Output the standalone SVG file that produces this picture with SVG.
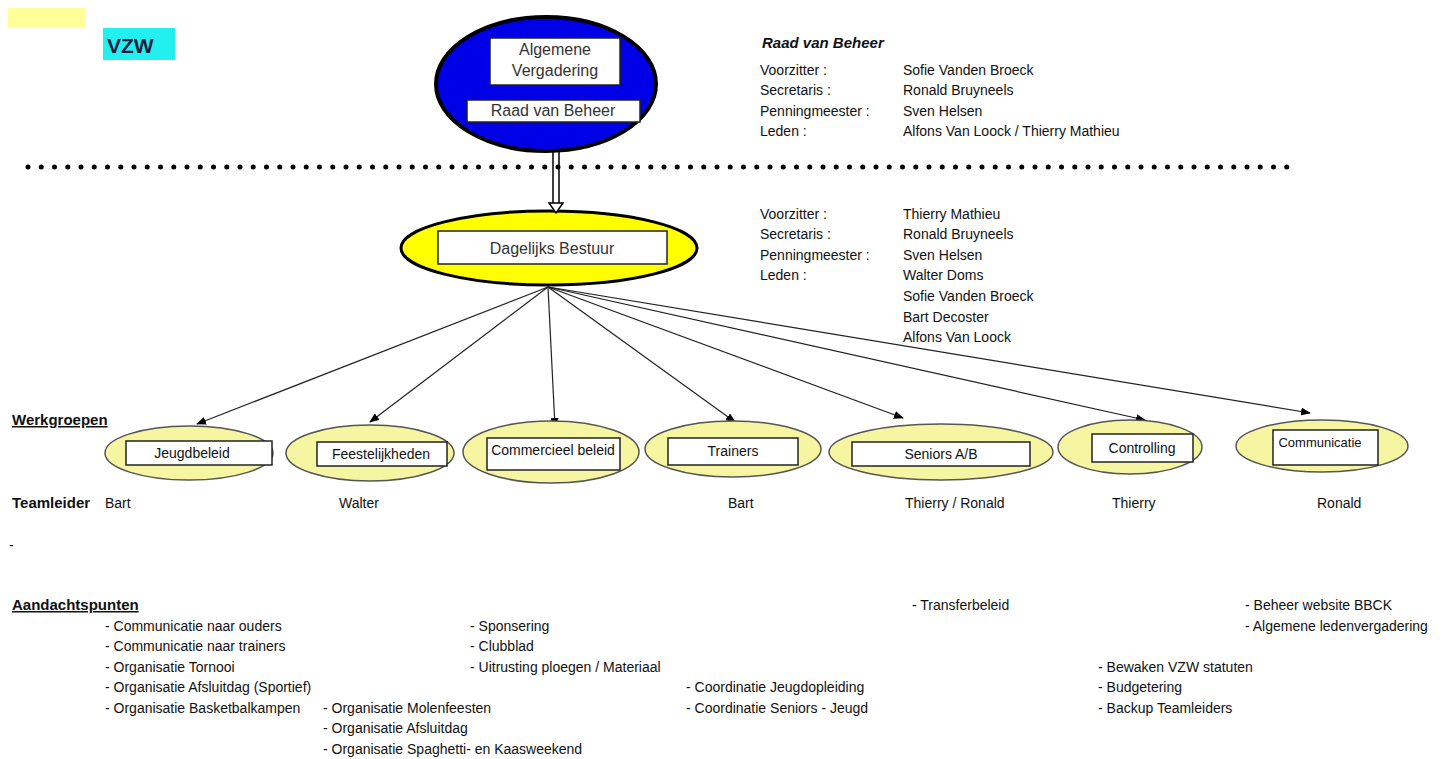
<svg xmlns="http://www.w3.org/2000/svg" width="1450" height="759" viewBox="0 0 1450 759">
<defs>
<marker id="ah" markerWidth="10" markerHeight="8" refX="9" refY="4" orient="auto" markerUnits="userSpaceOnUse">
<path d="M0,0 L10,4 L0,8 Z" fill="#000"/>
</marker>
<style>
text{font-family:"Liberation Sans",Arial,sans-serif;fill:#111;}
.t{font-size:14px;}
.b{font-size:15px;font-weight:bold;}
.u{font-size:15px;font-weight:bold;text-decoration:underline;}
.bx{fill:#fff;stroke:#222;stroke-width:1.5;}
.wg{fill:#f6f6a2;stroke:#555;stroke-width:1.5;}
.lbl{font-size:14px;text-anchor:middle;}
.big{font-size:16px;text-anchor:middle;fill:#333;}
.con{stroke:#222;stroke-width:1.2;fill:none;marker-end:url(#ah);}
</style>
</defs>
<rect width="1450" height="759" fill="#fff"/>

<g id="vzw">
<rect x="8" y="8" width="77" height="20" fill="#ffff99"/>
<rect x="103" y="28" width="72" height="32" fill="#22f0f0"/>
<text x="107" y="53" style="font-size:21px;font-weight:bold;fill:#1a1a40">VZW</text>
</g>

<g id="algemene">
<ellipse cx="546" cy="84" rx="110" ry="67" fill="#0000e6" stroke="#000" stroke-width="4"/>
<rect class="bx" x="490" y="38" width="130" height="47"/>
<text class="big" x="555" y="55">Algemene</text>
<text class="big" x="555" y="76">Vergadering</text>
<rect class="bx" x="467" y="100" width="173" height="22"/>
<text class="big" x="553" y="116">Raad van Beheer</text>
</g>

<line x1="28" y1="167" x2="1300" y2="167" stroke="#000" stroke-width="5" stroke-linecap="round" stroke-dasharray="0 13.25"/>

<g id="raad-info">
<text x="762" y="48" style="font-size:15px;font-weight:bold;font-style:italic">Raad van Beheer</text>
<text class="t" x="760" y="75">Voorzitter :</text>
<text class="t" x="760" y="95">Secretaris :</text>
<text class="t" x="760" y="116">Penningmeester :</text>
<text class="t" x="760" y="136">Leden :</text>
<text class="t" x="903" y="75">Sofie Vanden Broeck</text>
<text class="t" x="903" y="95">Ronald Bruyneels</text>
<text class="t" x="903" y="116">Sven Helsen</text>
<text class="t" x="903" y="136">Alfons Van Loock / Thierry Mathieu</text>
</g>

<g id="dagelijks">
<ellipse cx="549" cy="248" rx="148" ry="37" fill="#ffff00" stroke="#000" stroke-width="3"/>
<rect class="bx" x="438" y="231" width="229" height="33"/>
<text class="big" x="552" y="254">Dagelijks Bestuur</text>
</g>

<g id="db-info">
<text class="t" x="760" y="219">Voorzitter :</text>
<text class="t" x="760" y="239">Secretaris :</text>
<text class="t" x="760" y="260">Penningmeester :</text>
<text class="t" x="760" y="280">Leden :</text>
<text class="t" x="903" y="219">Thierry Mathieu</text>
<text class="t" x="903" y="239">Ronald Bruyneels</text>
<text class="t" x="903" y="260">Sven Helsen</text>
<text class="t" x="903" y="280">Walter Doms</text>
<text class="t" x="903" y="301">Sofie Vanden Broeck</text>
<text class="t" x="903" y="322">Bart Decoster</text>
<text class="t" x="903" y="342">Alfons Van Loock</text>
</g>

<g id="connectors">
<path d="M553,152 V203 M559,152 V203" stroke="#000" stroke-width="1.5" fill="none"/>
<path d="M549,203 L563,203 L556,213 Z" fill="#fff" stroke="#000" stroke-width="1.5"/>
<line class="con" x1="548" y1="287" x2="197" y2="424"/>
<line class="con" x1="548" y1="287" x2="370" y2="422"/>
<line class="con" x1="548" y1="287" x2="555" y2="427"/>
<line class="con" x1="548" y1="287" x2="735" y2="422"/>
<line class="con" x1="548" y1="287" x2="903" y2="418"/>
<line class="con" x1="548" y1="287" x2="1145" y2="420"/>
<line class="con" x1="548" y1="287" x2="1310" y2="413"/>
</g>

<text class="u" x="12" y="425">Werkgroepen</text>

<g id="jeugdbeleid">
<ellipse class="wg" cx="189" cy="453" rx="84" ry="27"/>
<rect class="bx" x="126" y="441" width="146" height="24"/>
<text class="lbl" x="192" y="458">Jeugdbeleid</text>
</g>
<g id="feestelijkheden">
<ellipse class="wg" cx="370" cy="453" rx="84" ry="28"/>
<rect class="bx" x="317" y="442" width="130" height="24"/>
<text class="lbl" x="381" y="459">Feestelijkheden</text>
</g>
<g id="commercieel">
<ellipse class="wg" cx="551" cy="452" rx="88" ry="31"/>
<rect class="bx" x="487" y="438" width="133" height="32"/>
<text class="lbl" x="553" y="455">Commercieel beleid</text>
</g>
<g id="trainers">
<ellipse class="wg" cx="733" cy="449" rx="88" ry="28"/>
<rect class="bx" x="668" y="438" width="130" height="27"/>
<text class="lbl" x="733" y="456">Trainers</text>
</g>
<g id="seniors">
<ellipse class="wg" cx="941" cy="452" rx="112" ry="28"/>
<rect class="bx" x="852" y="442" width="178" height="24"/>
<text class="lbl" x="941" y="459">Seniors A/B</text>
</g>
<g id="controlling">
<ellipse class="wg" cx="1130" cy="447" rx="72" ry="27"/>
<rect class="bx" x="1092" y="434" width="101" height="28"/>
<text class="lbl" x="1142" y="453">Controlling</text>
</g>
<g id="communicatie">
<ellipse class="wg" cx="1322" cy="446" rx="86" ry="26"/>
<rect class="bx" x="1273" y="430" width="105" height="35"/>
<text class="lbl" x="1320" y="447" style="font-size:13px">Communicatie</text>
</g>

<g id="teamleiders">
<text class="b" x="12" y="508">Teamleider</text>
<text class="t" x="105" y="508">Bart</text>
<text class="t" x="339" y="508">Walter</text>
<text class="t" x="728" y="508">Bart</text>
<text class="t" x="905" y="508">Thierry / Ronald</text>
<text class="t" x="1112" y="508">Thierry</text>
<text class="t" x="1317" y="508">Ronald</text>
</g>

<text class="t" x="9" y="550">-</text>

<g id="aandachtspunten">
<text class="u" x="12" y="610">Aandachtspunten</text>
<text class="t" x="105" y="631">- Communicatie naar ouders</text>
<text class="t" x="105" y="651">- Communicatie naar trainers</text>
<text class="t" x="105" y="672">- Organisatie Tornooi</text>
<text class="t" x="105" y="692">- Organisatie Afsluitdag (Sportief)</text>
<text class="t" x="105" y="713">- Organisatie Basketbalkampen</text>
<text class="t" x="323" y="713">- Organisatie Molenfeesten</text>
<text class="t" x="323" y="733">- Organisatie Afsluitdag</text>
<text class="t" x="323" y="754">- Organisatie Spaghetti- en Kaasweekend</text>
<text class="t" x="470" y="631">- Sponsering</text>
<text class="t" x="470" y="651">- Clubblad</text>
<text class="t" x="470" y="672">- Uitrusting ploegen / Materiaal</text>
<text class="t" x="686" y="692">- Coordinatie Jeugdopleiding</text>
<text class="t" x="686" y="713">- Coordinatie Seniors - Jeugd</text>
<text class="t" x="912" y="610">- Transferbeleid</text>
<text class="t" x="1098" y="672">- Bewaken VZW statuten</text>
<text class="t" x="1098" y="692">- Budgetering</text>
<text class="t" x="1098" y="713">- Backup Teamleiders</text>
<text class="t" x="1245" y="610">- Beheer website BBCK</text>
<text class="t" x="1245" y="631">- Algemene ledenvergadering</text>
</g>
</svg>
